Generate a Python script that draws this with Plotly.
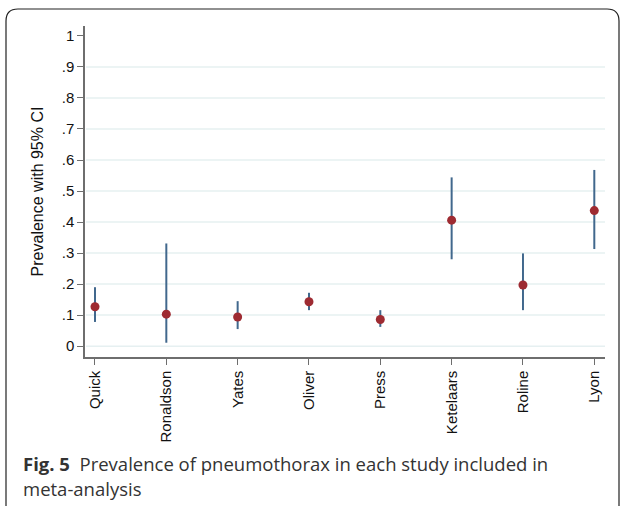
import plotly.graph_objects as go

studies = ["Quick", "Ronaldson", "Yates", "Oliver", "Press", "Ketelaars", "Roline", "Lyon"]
prevalence = [0.127, 0.103, 0.094, 0.143, 0.086, 0.406, 0.197, 0.437]
ci_lower = [0.078, 0.011, 0.055, 0.116, 0.062, 0.280, 0.116, 0.313]
ci_upper = [0.190, 0.331, 0.145, 0.172, 0.116, 0.544, 0.299, 0.568]
y_ticks = [0, 0.1, 0.2, 0.3, 0.4, 0.5, 0.6, 0.7, 0.8, 0.9, 1.0]
y_tick_labels = ["0", ".1", ".2", ".3", ".4", ".5", ".6", ".7", ".8", ".9", "1"]
grid_values = [0, 0.1, 0.2, 0.3, 0.4, 0.5, 0.6, 0.7, 0.8, 0.9]

W, H = 624, 506
L, R, T, B = 85, 19, 26, 149
pw, ph = W - L - R, H - T - B

def px(x):
    return (x - L) / pw

def py(y):
    return (H - B - y) / ph

xpos = list(range(1, len(studies) + 1))

fig = go.Figure()
fig.add_trace(go.Scatter(
    x=xpos, y=prevalence, mode="markers",
    marker=dict(size=9, color="#9e2b32", line=dict(width=0)),
    error_y=dict(type="data", symmetric=False,
                 array=[u - p for u, p in zip(ci_upper, prevalence)],
                 arrayminus=[p - l for l, p in zip(ci_lower, prevalence)],
                 width=0, thickness=2, color="#41688d"),
    showlegend=False,
))

shapes = []
for g in grid_values:
    shapes.append(dict(type="line", xref="paper", yref="y", x0=0.002, x1=1, y0=g, y1=g,
                       line=dict(color="#e6f0f1", width=1.5), layer="below"))

# rounded border
x0, y0, x1, y1, r = px(6), py(9), px(619), py(540), 12
rx, ry = r / pw, r / ph
path = (f"M {x0},{y0 - ry} L {x0},{y1 + ry} Q {x0},{y1} {x0 + rx},{y1} "
        f"L {x1 - rx},{y1} Q {x1},{y1} {x1},{y1 + ry} L {x1},{y0 - ry} "
        f"Q {x1},{y0} {x1 - rx},{y0} L {x0 + rx},{y0} Q {x0},{y0} {x0},{y0 - ry} Z")
shapes.append(dict(type="path", xref="paper", yref="paper", path=path,
                   line=dict(color="#222222", width=1.2), fillcolor="rgba(0,0,0,0)"))

fig.update_layout(
    width=W, height=H,
    margin=dict(l=L, r=R, t=T, b=B),
    paper_bgcolor="white", plot_bgcolor="white",
    font=dict(family="Liberation Sans, Arial, sans-serif", size=15, color="#111111"),
    shapes=shapes,
    xaxis=dict(range=[0.86, 8.15], tickmode="array", tickvals=xpos, ticktext=studies,
               tickangle=-90, showgrid=False, zeroline=False, showline=True,
               linecolor="#6e6e6e", linewidth=1.5, ticks="outside", ticklen=6,
               tickcolor="#6e6e6e", tickwidth=1.2, tickfont=dict(size=15)),
    yaxis=dict(range=[-0.035, 1.032], tickmode="array", tickvals=y_ticks, ticktext=y_tick_labels,
               showgrid=False, zeroline=False, showline=True, linecolor="#6e6e6e",
               linewidth=1.5, ticks="outside", ticklen=6, tickcolor="#6e6e6e", tickwidth=1.2,
               tickfont=dict(size=15),
               title=dict(text="Prevalence with 95% CI", font=dict(size=16), standoff=14)),
    annotations=[
        dict(xref="paper", yref="paper", x=px(21), y=py(464), xanchor="left", yanchor="middle",
             showarrow=False, align="left",
             text="<b>Fig. 5</b>  Prevalence of pneumothorax in each study included in",
             font=dict(family="Open Sans, sans-serif", size=18.5, color="#333333")),
        dict(xref="paper", yref="paper", x=px(21), y=py(488), xanchor="left", yanchor="middle",
             showarrow=False, align="left", text="meta-analysis",
             font=dict(family="Open Sans, sans-serif", size=18.5, color="#333333")),
    ],
)

fig.write_html("out.html")
